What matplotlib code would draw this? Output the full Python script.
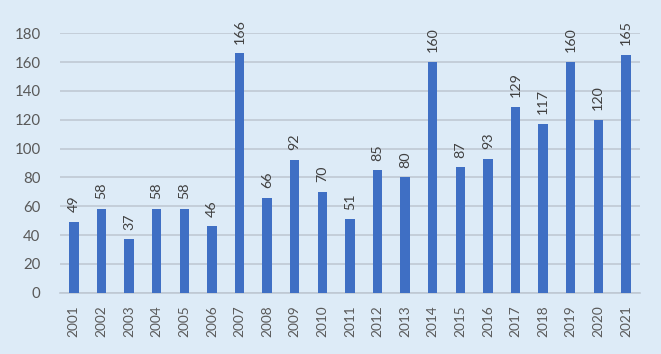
import matplotlib
matplotlib.use("Agg")
import matplotlib.pyplot as plt

years = [str(y) for y in range(2001, 2022)]
values = [49, 58, 37, 58, 58, 46, 166, 66, 92, 70, 51, 85, 80, 160, 87, 93, 129, 117, 160, 120, 165]
yticks = [0, 20, 40, 60, 80, 100, 120, 140, 160, 180]

bg = "#DDEBF7"
bar_color = "#3F6FC4"
text_color = "#595959"
label_color = "#404040"
grid_color = "#BFC9D4"

plt.rcParams['font.family'] = ['Lato', 'DejaVu Sans']

fig = plt.figure(figsize=(6.61, 3.54), dpi=100, facecolor=bg)
ax = fig.add_axes([0.0908, 0.173, 0.877, 0.733])
ax.set_facecolor(bg)

x = list(range(len(years)))
ax.bar(x, values, width=0.34, color=bar_color, zorder=3)
for xi, v in zip(x, values):
    ax.annotate(str(v), (xi, v), xytext=(0, 7), textcoords='offset points',
                rotation=90, ha='center', va='bottom',
                fontsize=10.3, color=label_color, zorder=4,
                annotation_clip=False)

ax.set_xlim(-0.5, len(years) - 0.5)
ax.set_ylim(0, 180)
ax.set_yticks(yticks)
ax.set_yticklabels([str(t) for t in yticks], fontsize=10.8, color=text_color)
ax.set_xticks(x)
ax.set_xticklabels(years, rotation=90, fontsize=9.8, color=text_color)
ax.tick_params(axis='both', length=0)
ax.tick_params(axis='y', pad=14)
ax.tick_params(axis='x', pad=9)
ax.grid(axis='y', color=grid_color, linewidth=1.2, zorder=0)
for s in ['top', 'right', 'left']:
    ax.spines[s].set_visible(False)
ax.spines['bottom'].set_color(grid_color)
ax.spines['bottom'].set_linewidth(1.2)
ax.spines['bottom'].set_zorder(0)

fig.savefig("out.png", dpi=100, facecolor=bg)
